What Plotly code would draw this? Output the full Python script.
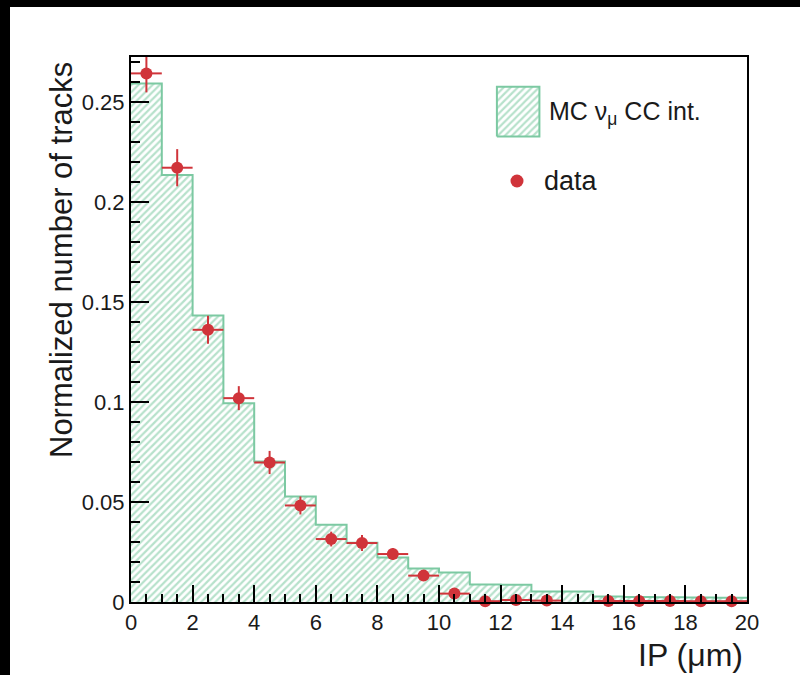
import plotly.graph_objects as go

# ---------------- data ----------------
bin_edges = [0, 1, 2, 3, 4, 5, 6, 7, 8, 9, 10, 11, 12, 13, 14, 15, 16, 17, 18, 19, 20]
bin_centers = [0.5, 1.5, 2.5, 3.5, 4.5, 5.5, 6.5, 7.5, 8.5, 9.5,
               10.5, 11.5, 12.5, 13.5, 14.5, 15.5, 16.5, 17.5, 18.5, 19.5]
mc_values = [0.2595, 0.2137, 0.1433, 0.0995, 0.0703, 0.0528, 0.0387, 0.0297, 0.0223, 0.0167,
             0.0148, 0.0087, 0.0086, 0.0053, 0.0053, 0.0027, 0.0025, 0.0024, 0.0022, 0.0021]
data_values = [0.2645, 0.2173, 0.1362, 0.1020, 0.0698, 0.0483, 0.0315, 0.0295, 0.0240, 0.0132,
               0.0042, 0.0004, 0.0010, 0.0007, None, 0.0005, 0.0005, 0.0005, 0.0004, 0.0004]
data_errors = [0.0095, 0.0093, 0.0070, 0.0060, 0.0058, 0.0045, 0.0037, 0.0040, 0.0030, 0.0022,
               0.0015, 0.0005, 0.0008, 0.0006, None, 0.0005, 0.0005, 0.0005, 0.0004, 0.0004]
bin_half_width = [0.5] * 20

x_title = "IP (\u03bcm)"
y_title = "Normalized number of tracks"
mc_label = "MC \u03bd<sub>\u03bc</sub> CC int."
data_label = "data"

GREEN = "#7cc9a2"
RED = "#d0343a"
FONT = "Liberation Sans, Arial, sans-serif"
TXT = "#1a1a1a"

HATCH = dict(shape="/", fgcolor="#6fc497", bgcolor="white", size=5,
             solidity=0.45, fillmode="overlay")

fig = go.Figure()

# hatched MC histogram
fig.add_trace(go.Bar(
    x=bin_centers, y=mc_values, width=1,
    marker=dict(color="white", line=dict(width=0), pattern=HATCH),
    showlegend=False, hoverinfo="skip"))

# MC outline (step)
fig.add_trace(go.Scatter(
    x=bin_edges, y=mc_values + [mc_values[-1]], mode="lines",
    line=dict(color=GREEN, width=2, shape="hv"),
    showlegend=False, hoverinfo="skip"))

# data points
fig.add_trace(go.Scatter(
    x=bin_centers, y=data_values, mode="markers",
    marker=dict(color=RED, size=12),
    error_y=dict(type="data", array=data_errors, color=RED, thickness=2, width=0),
    error_x=dict(type="data", array=bin_half_width, color=RED, thickness=2, width=0),
    cliponaxis=False, showlegend=False))

# ---- legend drawn on an overlay axis in [0,1] frame ----
lx0, lx1, ly0, ly1 = 0.594, 0.663, 0.854, 0.9455
fig.add_trace(go.Scatter(
    x=[lx0, lx1, lx1, lx0, lx0], y=[ly0, ly0, ly1, ly1, ly0],
    xaxis="x2", yaxis="y2", mode="lines", fill="toself",
    fillcolor="white", fillpattern=HATCH,
    line=dict(color=GREEN, width=2), showlegend=False, hoverinfo="skip"))
fig.add_trace(go.Scatter(
    x=[0.6266], y=[0.7725], xaxis="x2", yaxis="y2", mode="markers",
    marker=dict(color=RED, size=13), showlegend=False, hoverinfo="skip"))

fig.add_annotation(x=0.675, y=0.897, xref="paper", yref="paper", text=mc_label,
                   showarrow=False, xanchor="left", yanchor="middle",
                   font=dict(family=FONT, size=25, color=TXT))
fig.add_annotation(x=0.667, y=0.7725, xref="paper", yref="paper", text=data_label,
                   showarrow=False, xanchor="left", yanchor="middle",
                   font=dict(family=FONT, size=27, color=TXT))

# axis titles
fig.add_annotation(x=-0.112, y=0.9945, xref="paper", yref="paper", text=y_title,
                   textangle=-90, showarrow=False, xanchor="center", yanchor="top",
                   font=dict(family=FONT, size=31, color=TXT))
fig.add_annotation(x=0.9968, y=-0.097, xref="paper", yref="paper", text=x_title,
                   showarrow=False, xanchor="right", yanchor="middle",
                   font=dict(family=FONT, size=32, color=TXT))

# black borders (scan edges)
fig.add_shape(type="rect", xref="paper", yref="paper",
              x0=-131/616, x1=(10-131)/616, y0=-73/545, y1=602/545,
              fillcolor="black", line=dict(width=0), layer="above")
fig.add_shape(type="rect", xref="paper", yref="paper",
              x0=-131/616, x1=669/616, y0=(602-7)/545, y1=602/545,
              fillcolor="black", line=dict(width=0), layer="above")

fig.update_layout(
    width=800, height=675,
    margin=dict(l=131, r=53, t=57, b=73),
    paper_bgcolor="white", plot_bgcolor="white",
    bargap=0, showlegend=False,
    font=dict(family=FONT, color=TXT),
    xaxis=dict(range=[0, 20], dtick=2, tick0=0, ticks="inside", ticklen=17,
               tickwidth=2, tickcolor="black",
               minor=dict(dtick=0.5, ticks="inside", ticklen=8, tickwidth=2, tickcolor="black"),
               showline=True, linecolor="black", linewidth=2, mirror=True,
               showgrid=False, zeroline=False,
               tickfont=dict(family=FONT, size=22, color=TXT)),
    yaxis=dict(range=[0, 0.2727], dtick=0.05, tick0=0, ticks="inside", ticklen=18,
               tickwidth=2, tickcolor="black",
               minor=dict(dtick=0.01, ticks="inside", ticklen=9, tickwidth=2, tickcolor="black"),
               showline=True, linecolor="black", linewidth=2, mirror=True,
               showgrid=False, zeroline=False,
               tickfont=dict(family=FONT, size=22, color=TXT)),
    xaxis2=dict(overlaying="x", range=[0, 1], showticklabels=False, showgrid=False,
                zeroline=False, showline=False, ticks=""),
    yaxis2=dict(overlaying="y", range=[0, 1], showticklabels=False, showgrid=False,
                zeroline=False, showline=False, ticks=""),
)

fig.write_html("out.html")
